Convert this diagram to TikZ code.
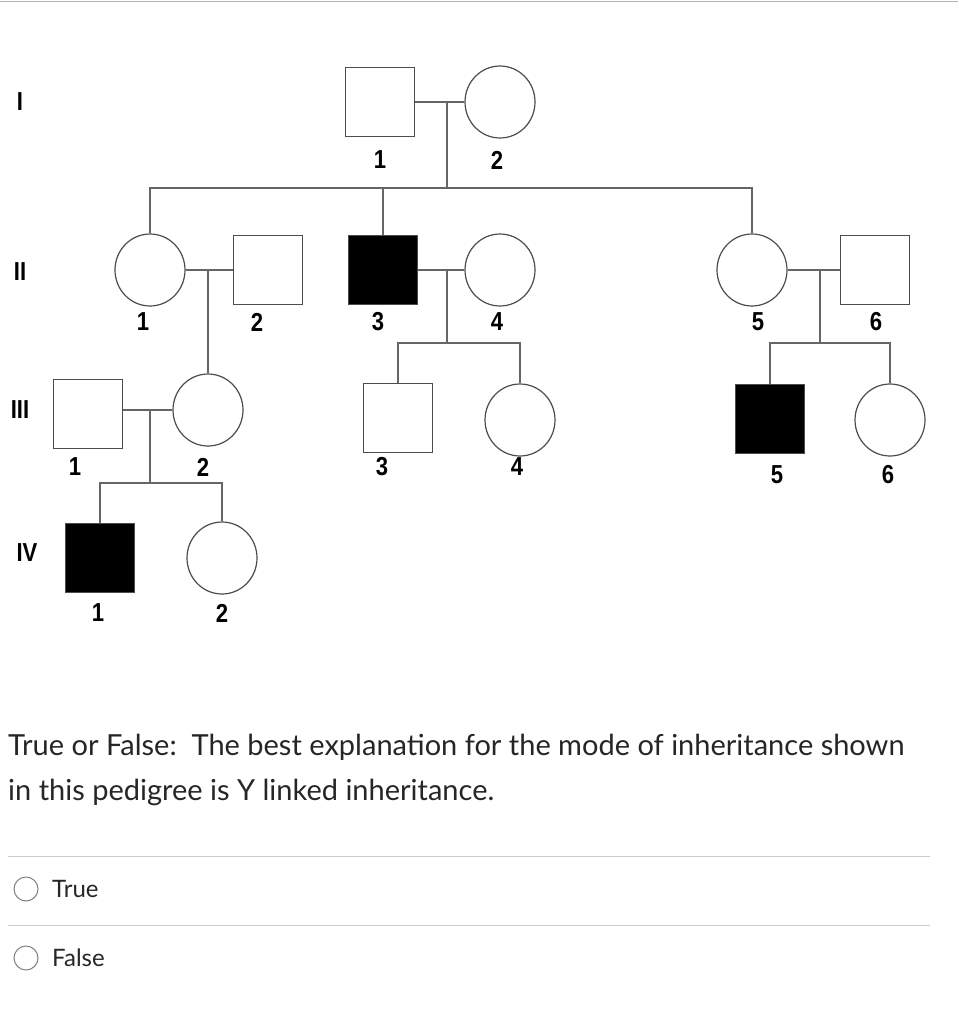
\documentclass[tikz,border=0pt]{standalone}
\usepackage{fontspec}
\usetikzlibrary{shapes.geometric}
\setmainfont{Liberation Sans}
\newfontfamily\lato{Lato}
\begin{document}
\begin{tikzpicture}[x=1pt,y=-1pt,
  ln/.style={draw=black!60,line width=1.3pt},
  male/.style={draw=black!70,line width=1.2pt,minimum size=69pt,inner sep=0pt},
  aff/.style={male,fill=black},
  fem/.style={draw=black!70,line width=1.2pt,ellipse,minimum width=70pt,minimum height=72pt,inner sep=0pt},
  lab/.style={font=\fontsize{26}{26}\bfseries\selectfont,inner sep=0pt,xscale=0.85},
  q/.style={font=\lato\fontsize{29}{34}\selectfont,anchor=base west,inner sep=0pt,text=black!85}]
\useasboundingbox (0,0) rectangle (958,1024);
\draw[black!30,line width=1pt] (0,2) -- (958,2);
% generation labels
\node[lab] at (20,102) {I};
\node[lab] at (20,272) {II};
\node[lab] at (20,410) {III};
\node[lab] at (27,553) {IV};
% gen I
\node[male] (i1) at (380,102) {};
\node[fem] (i2) at (500,102) {};
\node[lab] at (380,160) {1};
\node[lab] at (497,160) {2};
% gen II
\node[fem] (ii1) at (150,270) {};
\node[male] (ii2) at (268,270) {};
\node[aff] (ii3) at (383,270) {};
\node[fem] (ii4) at (500,270) {};
\node[fem] (ii5) at (752,270) {};
\node[male] (ii6) at (875,270) {};
\foreach \x/\t in {143/1,257/2,378/3,497/4,758/5,876/6}{\node[lab] at (\x,322) {\t};}
% gen III
\node[male] (iii1) at (88,414) {};
\node[fem] (iii2) at (208,410) {};
\node[male] (iii3) at (398,418) {};
\node[fem] (iii4) at (520,420) {};
\node[aff] (iii5) at (770,419) {};
\node[fem] (iii6) at (890,420) {};
\node[lab] at (75,467) {1};
\node[lab] at (203,467) {2};
\node[lab] at (382,467) {3};
\node[lab] at (517,467) {4};
\node[lab] at (777,475) {5};
\node[lab] at (888,475) {6};
% gen IV
\node[aff] (iv1) at (100,558) {};
\node[fem] (iv2) at (222,558) {};
\node[lab] at (98,613) {1};
\node[lab] at (222,613) {2};
% coordinates
\coordinate (m1) at (447,102);
\coordinate (s1) at (447,188);
\coordinate (m2) at (208,270);
\coordinate (m3) at (447,270);
\coordinate (s3) at (447,343);
\coordinate (m4) at (820,270);
\coordinate (s4) at (820,343);
\coordinate (m5) at (150,410);
\coordinate (s5) at (150,483);
% lines
\draw[ln] (i1.east) -- (i2.west);
\draw[ln] (m1) -- (s1);
\draw[ln] (ii1.north) |- (s1) -| (ii5.north);
\draw[ln] (ii3.north) -- (ii3.north |- s1);
\draw[ln] (ii1.east) -- (ii2.west);
\draw[ln] (m2) -- (iii2.north);
\draw[ln] (ii3.east) -- (ii4.west);
\draw[ln] (m3) -- (s3);
\draw[ln] (iii3.north) |- (s3) -| (iii4.north);
\draw[ln] (ii5.east) -- (ii6.west);
\draw[ln] (m4) -- (s4);
\draw[ln] (iii5.north) |- (s4) -| (iii6.north);
\draw[ln] (iii1.east |- m5) -- (iii2.west);
\draw[ln] (m5) -- (s5);
\draw[ln] (iv1.north) |- (s5) -| (iv2.north);
% question
\node[q] (t1) at (8,755) {True or False:\ \ The best explanation for the mode of inheritance shown};
\node[q] (t2) at (8,800) {in this pedigree is Y linked inheritance.};
\draw[black!20,line width=1pt] (8,856) -- (930,856);
\draw[black!20,line width=1pt] (8,925) -- (930,925);
\node[circle,draw=black!50,line width=1pt,minimum size=24pt,inner sep=0pt] (r1) at (26,889) {};
\node[circle,draw=black!50,line width=1pt,minimum size=24pt,inner sep=0pt] (r2) at (26,958) {};
\node[q,font=\lato\fontsize{24}{28}\selectfont] (a1) at (52,897) {True};
\node[q,font=\lato\fontsize{24}{28}\selectfont] (a2) at (52,966) {False};
\end{tikzpicture}
\end{document}
